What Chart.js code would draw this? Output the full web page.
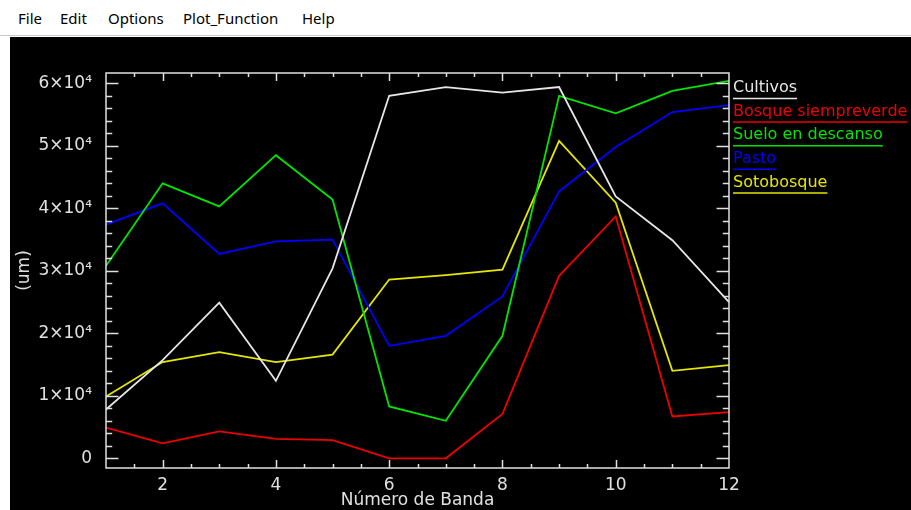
<!DOCTYPE html>
<html>
<head>
<meta charset="utf-8">
<script src="https://cdn.jsdelivr.net/npm/chart.js@4.4.1/dist/chart.umd.min.js"></script>
<style>
html, body { margin:0; padding:0; background:#fff; width:911px; height:510px; overflow:hidden; }
#menu { position:absolute; left:0; top:0; width:911px; height:35px; font-family:"Noto Sans", sans-serif; font-size:15px; color:#000; border-bottom:1px solid #c8c8c8; }
#menu span { position:absolute; top:8px; }
#panel { position:absolute; left:10px; top:37px; width:901px; height:473px; background:#000; }
</style>
</head>
<body>
<div id="menu">
  <span style="left:18px">File</span>
  <span style="left:60px">Edit</span>
  <span style="left:108px">Options</span>
  <span style="left:183px">Plot_Function</span>
  <span style="left:302px">Help</span>
</div>
<div id="panel"><canvas id="plot" width="901" height="473"></canvas></div>
<script>
// band numbers (x axis)
var bandas = [1, 2, 3, 4, 5, 6, 7, 8, 9, 10, 11, 12];

// series
var cultivos   = [7800, 15700, 24900, 12400, 30400, 58000, 59400, 58500, 59400, 41900, 34900, 25000];
var bosque     = [4900, 2400, 4300, 3100, 2900, 0, 0, 7100, 29200, 38700, 6700, 7400];
var suelo      = [30800, 44000, 40300, 48500, 41400, 8300, 6000, 19600, 58000, 55200, 58800, 60400];
var pasto      = [37400, 40800, 32700, 34700, 35000, 18000, 19600, 25900, 42700, 49800, 55400, 56500];
var sotobosque = [9900, 15400, 17000, 15400, 16600, 28600, 29300, 30200, 50800, 40900, 14000, 14900];

var nombres = ["Cultivos", "Bosque siempreverde", "Suelo en descanso", "Pasto", "Sotobosque"];
var colores = ["#e6e6e6", "#ee0000", "#00e600", "#0000ff", "#e6e600"];

var yTicks = [0, 10000, 20000, 30000, 40000, 50000, 60000];
var xTicks = [2, 4, 6, 8, 10, 12];

var axisColor = "#e0e0e0";
var fontFam = "'DejaVu Sans', sans-serif";

function pts(vals) {
  return vals.map(function(v, i) { return {x: bandas[i], y: v}; });
}

var series = [cultivos, bosque, suelo, pasto, sotobosque];
var datasets = series.map(function(s, i) {
  return {
    label: nombres[i],
    data: pts(s),
    borderColor: colores[i],
    borderWidth: 1.8,
    pointRadius: 0,
    tension: 0,
    fill: false
  };
});

function supLabel(v) {
  if (v === 0) return "0";
  return (v / 10000) + "\u00d710\u2074";
}

// box, inward ticks, legend and axis titles (IDL style)
var idlBox = {
  id: 'idlBox',
  afterDraw: function(chart) {
    var ctx = chart.ctx, a = chart.chartArea;
    var x = chart.scales.x, y = chart.scales.y;
    var w = a.right - a.left, h = a.bottom - a.top;
    ctx.save();
    ctx.strokeStyle = axisColor;
    ctx.lineWidth = 1.5;
    ctx.strokeRect(a.left, a.top, w, h);

    var xl = 0.02 * h, yl = 0.02 * w;
    ctx.beginPath();
    for (var v = x.min + 0.5; v < x.max; v += 0.5) {
      var px = Math.round(x.getPixelForValue(v)) + 0.5;
      var len = (v % 2 === 0) ? xl : xl / 2;
      ctx.moveTo(px, a.bottom); ctx.lineTo(px, a.bottom - len);
      ctx.moveTo(px, a.top); ctx.lineTo(px, a.top + len);
    }
    for (var t = 0; t <= y.max; t += 2000) {
      var py = Math.round(y.getPixelForValue(t)) + 0.5;
      var l2 = (t % 10000 === 0) ? yl : yl / 2;
      ctx.moveTo(a.left, py); ctx.lineTo(a.left + l2, py);
      ctx.moveTo(a.right, py); ctx.lineTo(a.right - l2, py);
    }
    ctx.stroke();

    // legend
    ctx.font = "16px " + fontFam;
    ctx.textBaseline = "middle";
    ctx.textAlign = "left";
    chart.data.datasets.forEach(function(ds, i) {
      var ly = a.top + 15 + i * 23.6;
      var lx = a.right + 4;
      ctx.fillStyle = ds.borderColor;
      ctx.fillText(ds.label, lx, ly);
      var tw = ctx.measureText(ds.label).width;
      ctx.strokeStyle = ds.borderColor;
      ctx.lineWidth = 1.5;
      ctx.beginPath();
      ctx.moveTo(lx, ly + 10.5); ctx.lineTo(lx + tw, ly + 10.5);
      ctx.stroke();
    });

    // axis titles
    ctx.fillStyle = axisColor;
    ctx.font = "17px " + fontFam;
    ctx.textAlign = "center";
    ctx.fillText("N\u00famero de Banda", (a.left + a.right) / 2, a.bottom + 33);
    ctx.save();
    ctx.translate(15, (a.top + a.bottom) / 2);
    ctx.rotate(-Math.PI / 2);
    ctx.fillText("(um)", 0, 0);
    ctx.restore();
    ctx.restore();
  }
};

new Chart(document.getElementById("plot").getContext("2d"), {
  type: 'line',
  data: { datasets: datasets },
  options: {
    responsive: false,
    animation: false,
    layout: { padding: { top: 36, right: 182, bottom: 0, left: 0 } },
    plugins: { legend: { display: false }, tooltip: { enabled: false } },
    scales: {
      x: {
        type: 'linear', min: 1, max: 12,
        grid: { display: false }, border: { display: false },
        afterFit: function(s) { s.height = 42; },
        afterBuildTicks: function(s) { s.ticks = xTicks.map(function(v) { return {value: v}; }); },
        ticks: { color: axisColor, padding: -1, maxRotation: 0, font: { family: fontFam, size: 17 } }
      },
      y: {
        type: 'linear', min: -1550, max: 61650,
        grid: { display: false }, border: { display: false },
        afterFit: function(s) { s.width = 96; },
        afterBuildTicks: function(s) { s.ticks = yTicks.map(function(v) { return {value: v}; }); },
        ticks: { color: axisColor, padding: 6, font: { family: fontFam, size: 17 }, callback: supLabel }
      }
    }
  },
  plugins: [idlBox]
});
</script>
</body>
</html>
